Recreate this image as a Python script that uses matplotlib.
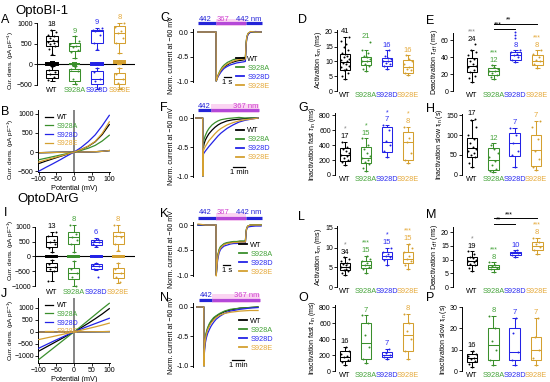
import matplotlib
matplotlib.use('Agg')
import matplotlib.pyplot as plt
from matplotlib.patches import Rectangle

plt.rcParams['font.family'] = ['Liberation Sans', 'DejaVu Sans']
plt.rcParams['mathtext.fontset'] = 'custom'
plt.rcParams['mathtext.rm'] = 'Liberation Sans'
plt.rcParams['mathtext.it'] = 'Liberation Sans:italic'
plt.rcParams['mathtext.bf'] = 'Liberation Sans:bold'
plt.rcParams['axes.linewidth'] = 0.7

# ------------------------------------------------------------------ data
GROUPS = ['WT', 'S928A', 'S928D', 'S928E']
COL = ['#000000', '#3a8f2c', '#2323e6', '#d4a030']
TXT = ['#000000', '#45a33a', '#2b2bf0', '#e5a93a']

# box stats: [whisker low, q1, median, q3, whisker high]
# A: OptoBI-1 current density (pA/pF)
A_on_box = [[234, 435, 556, 677, 838], [153, 314, 435, 516, 677], [355, 516, 798, 838, 879], [274, 516, 758, 919, 1000]]
A_on_pts = [[240, 380, 450, 480, 520, 550, 560, 600, 640, 680, 720, 780, 838],
            [160, 300, 350, 420, 450, 500, 560, 677],
            [360, 520, 700, 800, 820, 840, 879],
            [280, 520, 640, 760, 800, 900, 1000]]
A_off_box = [[-411, -330, -250, -129, -48], [-492, -411, -170, -105, -48], [-597, -492, -371, -170, -89], [-597, -492, -371, -210, -89]]
A_off_pts = [[-60, -150, -200, -250, -300, -380], [-60, -110, -160, -350, -480],
             [-100, -200, -350, -420, -580], [-100, -250, -350, -450, -580]]
A_dark_box = [[-16, -8, 10, 35, 48], [-10, -5, 4, 12, 18], [-20, -10, 8, 28, 36], [16, 25, 40, 75, 89]]
A_n = [18, 9, 9, 8]

# I: OptoDArG current density
I_on_box = [[140, 301, 495, 677, 839], [140, 409, 645, 839, 1075], [333, 387, 495, 570, 623], [193, 409, 677, 839, 1075]]
I_on_pts = [[150, 300, 420, 500, 560, 680, 820], [150, 420, 560, 640, 760, 1050],
            [340, 420, 480, 520, 600], [200, 420, 640, 700, 820, 1050]]
I_off_box = [[-828, -505, -365, -236, -107], [-1000, -774, -559, -398, -150], [-450, -430, -322, -269, -215], [-880, -720, -559, -398, -215]]
I_off_pts = [[-110, -250, -350, -420, -500, -820], [-160, -420, -560, -700, -1000],
             [-220, -300, -340, -420, -700], [-220, -420, -560, -700, -870]]
I_dark_box = [[-20, -10, 0, 10, 20], [-15, -8, 0, 8, 15], [-25, -12, 0, 12, 25], [-10, -5, 0, 5, 10]]
I_n = [13, 8, 6, 8]

# IV curves
V = [-100, -80, -60, -40, -20, 0, 20, 40, 60, 80, 100]
B_iv = [[-300, -235, -175, -115, -58, 0, 65, 150, 270, 460, 720],
        [-200, -160, -120, -80, -40, 0, 45, 100, 175, 290, 440],
        [-500, -400, -305, -205, -100, 0, 120, 270, 450, 690, 960],
        [-260, -205, -155, -105, -52, 0, 65, 155, 280, 490, 790]]
B_dark = [-15, -12, -9, -6, -3, 0, 3, 6, 10, 20, 40]
J_iv = [[-800, -640, -480, -320, -160, 0, 170, 350, 540, 740, 960],
        [-1150, -920, -690, -460, -230, 0, 230, 470, 710, 950, 1180],
        [-680, -540, -400, -265, -130, 0, 115, 230, 340, 450, 560],
        [-320, -258, -195, -130, -65, 0, 65, 135, 205, 280, 360]]
J_dark = [-10, -8, -6, -4, -2, 0, 2, 4, 6, 8, 10]

# normalized current traces (s)
C_t = [-0.2, 1.0, 2.0, 2.68, 2.72, 2.8, 2.9, 3.0, 3.2, 3.4, 3.7, 4.0, 4.5, 5.0, 5.5, 6.0, 6.5, 7.0, 7.38, 7.42, 7.5, 7.6, 7.8, 8.2, 9.0, 9.9]
C_tr = [[0, 0, 0, 0, -1.0, -0.97, -0.93, -0.9, -0.85, -0.8, -0.75, -0.71, -0.67, -0.63, -0.61, -0.59, -0.58, -0.57, -0.56, -0.45, -0.25, -0.12, -0.04, 0.0, 0.0, 0.0],
        [0, 0, 0, 0, -1.0, -0.96, -0.92, -0.88, -0.82, -0.77, -0.71, -0.67, -0.62, -0.59, -0.56, -0.55, -0.53, -0.52, -0.52, -0.42, -0.22, -0.1, -0.03, 0.0, 0.0, 0.0],
        [0, 0, 0, 0, -1.0, -0.97, -0.94, -0.91, -0.87, -0.83, -0.78, -0.74, -0.7, -0.67, -0.65, -0.63, -0.62, -0.61, -0.6, -0.48, -0.27, -0.13, -0.05, 0.0, 0.01, 0.0],
        [0, 0, 0, 0, -1.0, -0.97, -0.93, -0.89, -0.84, -0.79, -0.74, -0.7, -0.65, -0.62, -0.59, -0.57, -0.56, -0.55, -0.55, -0.44, -0.24, -0.11, -0.03, 0.01, 0.0, 0.0]]
K_t = C_t
K_tr = [[0, 0, 0, 0, -1.0, -0.85, -0.7, -0.6, -0.5, -0.45, -0.41, -0.38, -0.36, -0.35, -0.34, -0.34, -0.33, -0.33, -0.33, -0.26, -0.13, -0.06, -0.02, 0, 0, 0],
        [0, 0, 0, 0, -1.0, -0.83, -0.68, -0.58, -0.48, -0.43, -0.4, -0.37, -0.35, -0.34, -0.33, -0.33, -0.32, -0.32, -0.32, -0.25, -0.12, -0.05, -0.02, 0, 0, 0],
        [0, 0, 0, 0, -1.0, -0.88, -0.75, -0.65, -0.55, -0.49, -0.45, -0.42, -0.4, -0.38, -0.37, -0.37, -0.36, -0.36, -0.36, -0.28, -0.15, -0.07, -0.04, -0.03, -0.02, -0.02],
        [0.02, 0, 0, 0, -1.02, -0.86, -0.71, -0.61, -0.51, -0.46, -0.42, -0.39, -0.37, -0.36, -0.35, -0.35, -0.34, -0.34, -0.34, -0.27, -0.13, -0.06, -0.02, 0, 0, 0]]
CK_light_t = [-0.2, 2.7, 7.4, 10.0]
CK_light_lab = ['442', '367', '442 nm']

# inactivation traces (min)
F_t = [-0.6, -0.02, 0.0, 0.04, 0.1, 0.2, 0.35, 0.5, 0.75, 1.0, 1.25, 1.5, 2.0, 2.5, 3.0, 3.5, 4.0, 4.6]
F_tr = [[0, 0, -1.0, -0.5, -0.44, -0.38, -0.32, -0.27, -0.21, -0.16, -0.12, -0.09, -0.05, -0.03, -0.02, -0.01, 0, 0],
        [0, 0, -1.0, -0.42, -0.36, -0.3, -0.23, -0.18, -0.12, -0.08, -0.05, -0.03, -0.01, 0, 0.01, 0, 0, 0],
        [0, 0, -1.0, -0.62, -0.6, -0.57, -0.53, -0.49, -0.43, -0.37, -0.31, -0.26, -0.18, -0.12, -0.07, -0.04, -0.02, 0],
        [0, 0, -1.0, -0.56, -0.53, -0.49, -0.44, -0.39, -0.33, -0.27, -0.22, -0.18, -0.12, -0.08, -0.05, -0.03, -0.02, 0]]
N_t = [-0.6, -0.02, 0.0, 0.03, 0.07, 0.12, 0.2, 0.3, 0.45, 0.6, 0.8, 1.0, 1.3, 1.7, 2.2, 3.0, 3.8, 4.5]
N_tr = [[0, 0, -1.0, -0.72, -0.6, -0.52, -0.44, -0.37, -0.3, -0.25, -0.2, -0.16, -0.12, -0.08, -0.05, -0.02, -0.01, 0],
        [0, 0, -1.0, -0.7, -0.58, -0.5, -0.42, -0.35, -0.28, -0.23, -0.18, -0.15, -0.11, -0.07, -0.04, -0.02, -0.01, 0],
        [0, 0, -1.0, -0.78, -0.68, -0.6, -0.52, -0.45, -0.38, -0.32, -0.26, -0.21, -0.16, -0.11, -0.07, -0.04, -0.02, -0.01],
        [0, 0, -1.0, -0.74, -0.62, -0.54, -0.46, -0.39, -0.32, -0.27, -0.22, -0.18, -0.14, -0.11, -0.09, -0.07, -0.06, -0.06]]
FN_light_t = [-0.45, 0.7, 4.65]
FN_light_lab = ['442', '367 nm']

# kinetics
D_box = [[4.2, 7.0, 9.8, 12.6, 18.3], [6.8, 8.7, 10.2, 11.5, 14.0], [7.6, 8.5, 10.0, 11.3, 13.8], [5.3, 6.1, 8.1, 10.4, 12.1]]
D_pts = [[4.2, 5, 6, 7, 7.5, 8, 8.5, 9, 9.5, 10, 10.5, 11, 11.5, 12, 12.5, 13, 14, 15, 16, 17, 18.3],
         [6.8, 7.5, 8.5, 9, 10, 10.2, 10.8, 11.5, 12, 13, 14, 16.6],
         [7.6, 8.5, 9, 9.5, 10, 10.3, 10.8, 11.3, 12, 13.8],
         [5.3, 6.1, 7, 7.5, 8.1, 9, 10, 11, 12.1]]
D_n = [41, 21, 16, 16]

E_box = [[10.7, 22.5, 30.0, 38.3, 48.0], [14.6, 18.6, 23.3, 26.5, 30.4], [34.0, 36.0, 42.0, 46.0, 48.0], [26.5, 30.4, 35.6, 42.0, 48.0]]
E_pts = [[10.7, 15, 18, 22.5, 25, 28, 30, 32, 35, 38, 42, 46, 48, 55],
         [14.6, 17, 19, 21, 23, 24, 26, 28, 30.4],
         [34, 37, 40, 42, 44, 46, 48],
         [26.5, 32, 35, 37, 40, 44, 48]]
E_out = [[], [], [62, 66, 70], []]
E_n = [24, 12, 8, 8]
E_stars = ['***', '***', '', '***']
E_sig = [(1, 2, 73.5, '***'), (1, 3, 79, '**')]

G_box = [[133, 190, 270, 355, 445], [53, 155, 222, 377, 490], [244, 311, 444, 644, 666], [155, 200, 444, 577, 644]]
G_pts = [[133, 180, 200, 230, 260, 270, 290, 320, 350, 380, 445],
         [53, 100, 150, 180, 200, 230, 260, 300, 350, 400, 490],
         [244, 320, 400, 450, 600, 666],
         [155, 200, 300, 444, 500, 644]]
G_n = [17, 15, 7, 8]
G_stars = ['*', '*', '*', '*']

H_box = [[20.8, 45.8, 66.6, 91.6, 137], [6.7, 12.5, 37.5, 66.6, 79], [20.8, 48, 79, 104, 118], [12.5, 22, 62.5, 100, 135]]
H_pts = [[20.8, 30, 45, 50, 55, 60, 66, 70, 80, 90, 100, 120, 137, 141],
         [6.7, 10, 15, 25, 35, 45, 55, 65, 75],
         [20.8, 50, 60, 80, 100, 118],
         [12.5, 20, 40, 60, 90, 120, 135]]
H_n = [17, 12, 7, 7]

L_box = [[3.0, 4.2, 5.0, 6.0, 7.5], [3.5, 4.8, 5.5, 6.5, 8.0], [5.5, 7.0, 8.0, 9.0, 10.0], [4.5, 6.0, 7.0, 8.8, 11.0]]
L_pts = [[3, 3.5, 4, 4.3, 4.6, 5, 5.2, 5.5, 5.8, 6, 6.5, 7, 7.5],
         [3.5, 4.5, 5, 5.5, 6, 6.5, 7, 8],
         [5.5, 6.8, 7.5, 8, 8.5, 9, 10],
         [4.5, 5.5, 6.5, 7, 8, 9, 10, 11]]
L_n = [34, 15, 15, 15]
L_stars = ['*', '***', '*', '***']

M_box = [[6.0, 8.0, 9.5, 11.0, 13.0], [5.5, 6.5, 7.3, 8.0, 9.0], [11.0, 11.8, 12.3, 12.8, 13.3], [12.0, 13.5, 15.0, 16.5, 18.0]]
M_pts = [[6, 7, 8, 8.5, 9, 9.5, 10, 10.5, 11, 12, 13],
         [5.5, 6.5, 7, 7.5, 8, 9],
         [11, 11.8, 12.2, 12.6, 13.3],
         [12, 13.5, 14.5, 15.5, 16.5, 18]]
M_n = [19, 8, 10, 8]
M_stars = ['*', '***', '', '***']
M_sig = [(1, 2, 23, '**'), (1, 3, 25, '***')]

O_box = [[80, 130, 180, 250, 300], [100, 150, 350, 600, 700], [150, 170, 200, 240, 280], [150, 250, 450, 600, 720]]
O_pts = [[80, 110, 140, 170, 190, 220, 250, 300],
         [100, 150, 300, 450, 600, 700],
         [150, 180, 200, 230, 280],
         [150, 250, 400, 500, 600, 720]]
O_n = [16, 7, 7, 8]

P_box = [[2, 4, 6, 8, 9.5], [3, 5, 12, 20, 26], [3, 5, 9, 20, 25], [3, 5, 10, 16, 25]]
P_pts = [[2, 3.5, 4.5, 5.5, 6, 7, 8, 9.5],
         [3, 5, 10, 14, 20, 26],
         [3, 5, 9, 18, 25],
         [3, 6, 10, 16, 25]]
P_n = [16, 8, 7, 7]

# ------------------------------------------------------------------ figure
W, H = 550, 382
fig = plt.figure(figsize=(W / 100, H / 100), dpi=100)


def px_axes(l, t, r, b):
    ax = fig.add_axes([l / W, 1 - b / H, (r - l) / W, (b - t) / H])
    ax.patch.set_visible(False)
    return ax


def label_at(ax, rect, xpx, ypx):
    l, t, r, b = rect
    ax.yaxis.set_label_coords((xpx - l) / (r - l), (b - ypx) / (b - t))


JIT = [0.0, -0.14, 0.14, -0.07, 0.07, -0.2, 0.2, 0.03, -0.1, 0.1, -0.17, 0.17, -0.03, 0.12]


def draw_box(ax, pos, box, col, width=0.5, lw=0.75):
    lo, q1, med, q3, hi = box
    ax.add_patch(Rectangle((pos - width / 2, q1), width, q3 - q1, fill=False, ec=col, lw=lw, zorder=3, clip_on=False))
    kw = dict(color=col, lw=lw, zorder=3, clip_on=False, solid_capstyle='butt')
    ax.plot([pos - width / 2, pos + width / 2], [med, med], **kw)
    ax.plot([pos, pos], [q3, hi], **kw)
    ax.plot([pos, pos], [q1, lo], **kw)
    cw = width * 0.22
    ax.plot([pos - cw, pos + cw], [hi, hi], **kw)
    ax.plot([pos - cw, pos + cw], [lo, lo], **kw)


def draw_pts(ax, pos, pts, col, s=2.0):
    xs = [pos + JIT[k % len(JIT)] for k in range(len(pts))]
    ax.scatter(xs, pts, s=s, color=col, zorder=4, linewidths=0, clip_on=False)


def group_xlabels(ax):
    ax.set_xticks(range(4))
    ax.set_xticklabels(GROUPS, fontsize=5.3)
    ax.tick_params(axis='x', length=0, pad=1)
    for lab, c in zip(ax.get_xticklabels(), TXT):
        lab.set_color(c)


def left_only(ax):
    for s in ('top', 'right', 'bottom'):
        ax.spines[s].set_visible(False)


def stat_panel(rect, xlim, ylim, spine_top, yticks, ylabel, boxes, pts, ns,
               stars=None, outl=None, sig=None):
    ax = px_axes(*rect)
    ax.set_xlim(*xlim)
    ax.set_ylim(*ylim)
    left_only(ax)
    ax.spines['left'].set_bounds(ylim[0], spine_top)
    ax.set_yticks(yticks)
    ax.tick_params(axis='y', labelsize=5, length=2, width=0.6, pad=1)
    group_xlabels(ax)
    ax.set_ylabel(ylabel, fontsize=5, labelpad=1)
    ax.yaxis.label.set_y((spine_top / 2 - ylim[0]) / (ylim[1] - ylim[0]))
    for i in range(4):
        draw_box(ax, i, boxes[i], COL[i])
        draw_pts(ax, i, pts[i], COL[i])
        top = max(boxes[i][4], max(pts[i]))
        ax.annotate(str(ns[i]), (i, top), xytext=(0, 1.2), textcoords='offset points',
                    ha='center', va='bottom', fontsize=5.5, color=TXT[i])
        if stars and stars[i]:
            sc = '#888888' if i == 0 else TXT[i]
            ax.annotate(stars[i], (i, top), xytext=(0, 6.5), textcoords='offset points',
                        ha='center', va='bottom', fontsize=5, color=sc)
        if outl and outl[i]:
            ax.scatter([i] * len(outl[i]), outl[i], s=2.0, color=COL[i], zorder=4, linewidths=0, clip_on=False)
    if sig:
        for a, b, y, s in sig:
            ax.plot([a, b], [y, y], color='k', lw=0.7, clip_on=False)
            ax.text((a + b) / 2 - 0.3, y, s, ha='center', va='bottom', fontsize=5, clip_on=False)
    return ax


def current_panel(rect, xlim, ylim, yticks, ylabel, on_box, on_pts, off_box, off_pts, dark_box, ns, lab_y):
    ax = px_axes(*rect)
    ax.set_xlim(*xlim)
    ax.set_ylim(*ylim)
    left_only(ax)
    ax.spines['left'].set_bounds(yticks[0], yticks[-1])
    ax.set_yticks(yticks)
    ax.tick_params(axis='y', labelsize=5, length=2, width=0.6, pad=1)
    group_xlabels(ax)
    ax.set_ylabel(ylabel, fontsize=4.6)
    label_at(ax, rect, 16, lab_y)
    ax.axhline(0, color='k', lw=0.8, zorder=2)
    for i in range(4):
        draw_box(ax, i, on_box[i], COL[i])
        draw_pts(ax, i, on_pts[i], COL[i])
        draw_box(ax, i, off_box[i], COL[i])
        draw_pts(ax, i, off_pts[i], COL[i])
        draw_box(ax, i, dark_box[i], COL[i], lw=1.4)
        top = max(on_box[i][4], max(on_pts[i]))
        ax.annotate(str(ns[i]), (i, top), xytext=(0, 1.2), textcoords='offset points',
                    ha='center', va='bottom', fontsize=5.5, color=TXT[i])
    return ax


def iv_panel(rect, ylim, yticks, curves, dark, lab_y):
    ax = px_axes(*rect)
    ax.set_xlim(-102, 102)
    ax.set_ylim(*ylim)
    ax.spines['top'].set_visible(False)
    ax.spines['right'].set_visible(False)
    ax.set_xticks([-100, -50, 0, 50, 100])
    ax.set_yticks(yticks)
    ax.tick_params(labelsize=5, length=2, width=0.6, pad=1)
    ax.axvline(0, color='#707070', lw=1.2, zorder=1)
    ax.set_xlabel('Potential (mV)', fontsize=5.3, labelpad=1)
    ax.set_ylabel('Curr. dens. (pA pF$^{-1}$)', fontsize=4.6)
    label_at(ax, rect, 16, lab_y)
    for i in range(4):
        ax.plot(V, dark, color=COL[i], lw=0.9, zorder=2)
    hs = []
    for i in range(4):
        h, = ax.plot(V, curves[i], color=COL[i], lw=0.9, zorder=3)
        hs.append(h)
    leg = ax.legend(hs, GROUPS, loc='upper left', bbox_to_anchor=(0.04, 1.0), fontsize=5,
                    frameon=False, handlelength=1.2, handletextpad=0.5, labelspacing=0.25, borderpad=0.1)
    for t, c in zip(leg.get_texts(), TXT):
        t.set_color(c)
    return ax


def trace_panel(rect, xlim, ylim, t, traces, light_t, light_lab, bar_y, lab_y, sbar, sbar_lab,
                leg_anchor, uv_index):
    ax = px_axes(*rect)
    ax.set_xlim(*xlim)
    ax.set_ylim(*ylim)
    left_only(ax)
    ax.spines['left'].set_bounds(-1.02, 0.07)
    ax.set_yticks([-1.0, -0.5, 0.0])
    ax.set_yticklabels(['-1.0', '-0.5', '0.0'])
    ax.tick_params(axis='y', labelsize=5, length=2, width=0.6, pad=1)
    ax.set_xticks([])
    ax.set_ylabel('Norm. current at \u221260 mV', fontsize=5, labelpad=1)
    ax.yaxis.label.set_y((-0.48 - ylim[0]) / (ylim[1] - ylim[0]))
    hs = []
    for i in range(4):
        h, = ax.plot(t, traces[i], color=COL[i], lw=0.9, zorder=3)
        hs.append(h)
    for k in range(len(light_t) - 1):
        c = '#b448d8' if k == uv_index else '#2424d8'
        if k == uv_index:
            ax.add_patch(Rectangle((light_t[k], bar_y - 0.06), light_t[k + 1] - light_t[k], 0.16,
                                   color='#fbd4f2', lw=0, zorder=1, clip_on=False))
        ax.plot([light_t[k], light_t[k + 1]], [bar_y, bar_y], color=c, lw=2.3,
                solid_capstyle='butt', clip_on=False, zorder=2)
    n = len(light_lab)
    for k in range(n):
        c = '#d040d0' if k == uv_index else '#2424d8'
        if k == n - 1:
            ax.text(light_t[-1], lab_y, light_lab[k], ha='right', va='center', fontsize=5.5, color=c)
        else:
            ax.text(light_t[k] + 0.01 * (xlim[1] - xlim[0]), lab_y, light_lab[k], ha='left',
                    va='center', fontsize=5.5, color=c)
    ax.plot([sbar[0], sbar[1]], [sbar[2], sbar[2]], color='k', lw=0.9)
    ax.text((sbar[0] + sbar[1]) / 2, sbar[2] - 0.04, sbar_lab, ha='center', va='top', fontsize=5.5)
    leg = ax.legend(hs, GROUPS, loc='lower left', bbox_to_anchor=leg_anchor, fontsize=5.3,
                    frameon=False, handlelength=1.0, handletextpad=0.5, labelspacing=0.25, borderpad=0.1)
    for h in leg.get_lines():
        h.set_linewidth(1.3)
    for tx, c in zip(leg.get_texts(), TXT):
        tx.set_color(c)
    return ax


# ---- panels: OptoBI-1
current_panel((37, 21, 135, 86), (-0.67, 3.69), (-530, 1050), [-500, 0, 500, 1000],
              'Cur. dens. (pA pF$^{-1}$)', A_on_box, A_on_pts, A_off_box, A_off_pts, A_dark_box, A_n, 60)
iv_panel((38, 110, 110, 172), (-520, 1100), [-500, 0, 500, 1000], B_iv, B_dark, 149)
trace_panel((193, 20, 268, 84), (-1.0, 11.0), (-1.06, 0.245), C_t, C_tr, CK_light_t, CK_light_lab,
            0.175, 0.25, (4.0, 5.0, -0.92), '1 s', (0.52, -0.16), 1)
stat_panel((337, 29, 417, 91), (-0.38, 3.43), (0, 21), 20.7, [0, 5, 10, 15, 20],
           r'Activation $\tau_{\mathrm{on}}$ (ms)', D_box, D_pts, D_n)
stat_panel((453, 22, 548, 91), (-0.875, 3.5), (0, 81.2), 68, [0, 20, 40, 60],
           r'Deactivation $\tau_{\mathrm{off}}$ (ms)', E_box, E_pts, E_n, stars=E_stars, outl=E_out, sig=E_sig)
trace_panel((193, 106, 268, 178), (-0.83, 5.42), (-1.034, 0.207), F_t, F_tr, FN_light_t, FN_light_lab,
            0.138, 0.205, (2.5, 3.5, -0.845), '1 min', (0.52, 0.17), 1)
stat_panel((335, 113, 416, 175), (-0.48, 3.38), (0, 827), 827, [0, 200, 400, 600, 800],
           r'Inactivation fast $\tau_{\mathrm{in}}$ (ms)', G_box, G_pts, G_n, stars=G_stars)
stat_panel((462, 113, 548, 175), (-0.47, 3.56), (0, 155), 153, [0, 50, 100, 150],
           r'Inactivation slow $\tau_{\mathrm{in}}$ (s)', H_box, H_pts, H_n)

# ---- panels: OptoDArG
current_panel((35, 222, 135, 288), (-0.77, 3.77), (-1065, 1160), [-1000, -500, 0, 500, 1000],
              'Curr. dens. (pA pF$^{-1}$)', I_on_box, I_on_pts, I_off_box, I_off_pts, I_dark_box, I_n, 250)
iv_panel((38, 298, 110, 363), (-1290, 1400), [-1000, -500, 0, 500, 1000], J_iv, J_dark, 330)
trace_panel((193, 208, 268, 280), (-1.0, 11.0), (-1.1, 0.34), K_t, K_tr, CK_light_t, CK_light_lab,
            0.14, 0.24, (3.85, 4.95, -0.8), '1 s', (0.56, 0.0), 1)
trace_panel((193, 294, 268, 370), (-0.92, 5.33), (-1.07, 0.22), N_t, N_tr, FN_light_t, FN_light_lab,
            0.12, 0.2, (2.33, 3.33, -0.9), '1 min', (0.56, 0.18), 1)
stat_panel((337, 224, 417, 287), (-0.38, 3.43), (0, 16), 15.5, [0, 5, 10, 15],
           r'Activation $\tau_{\mathrm{on}}$ (ms)', L_box, L_pts, L_n, stars=L_stars)
stat_panel((453, 212, 548, 287), (-0.875, 3.5), (0, 27.3), 22, [0, 5, 10, 15, 20],
           r'Deactivation $\tau_{\mathrm{off}}$ (ms)', M_box, M_pts, M_n, stars=M_stars, sig=M_sig)
stat_panel((335, 305, 416, 371), (-0.48, 3.38), (0, 830), 830, [0, 200, 400, 600, 800],
           r'Inactivation fast $\tau_{\mathrm{in}}$ (ms)', O_box, O_pts, O_n)
stat_panel((462, 305, 548, 371), (-0.47, 3.56), (0, 31), 30, [0, 10, 20, 30],
           r'Inactivation slow $\tau_{\mathrm{in}}$ (s)', P_box, P_pts, P_n)

# ---- titles and panel letters
fig.text(15 / W, 1 - 11 / H, 'OptoBI-1', fontsize=9.5, va='center', ha='left')
fig.text(17 / W, 1 - 199 / H, 'OptoDArG', fontsize=9.5, va='center', ha='left')
letters = [('A', 0.5, 20), ('B', 0.5, 112), ('C', 160, 18), ('D', 298, 20), ('E', 426, 21),
           ('F', 160, 108), ('G', 298, 108), ('H', 426, 109),
           ('I', 4, 213), ('J', 0.5, 294), ('K', 160, 214), ('L', 298, 217), ('M', 426, 215),
           ('N', 160, 298), ('O', 298, 298), ('P', 426, 298)]
for s, x, y in letters:
    fig.text(x / W, 1 - y / H, s, fontsize=9, va='center', ha='left')

fig.savefig('out.png', dpi=100)
